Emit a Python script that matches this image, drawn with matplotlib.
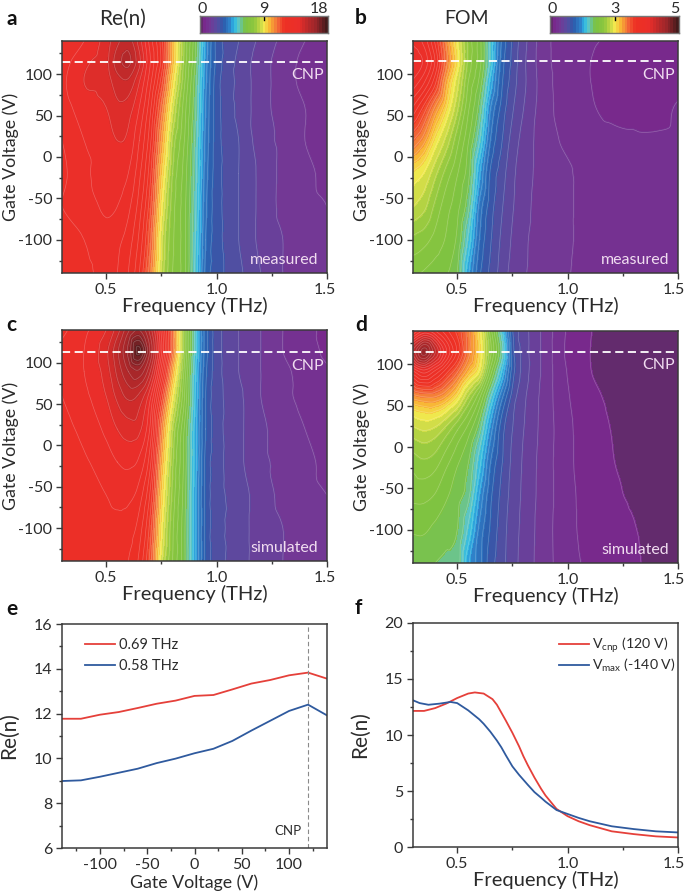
#!/usr/bin/env python3

import numpy as np
import matplotlib
matplotlib.use('Agg')
import matplotlib.pyplot as plt
import matplotlib.tri as mtri
from matplotlib.colors import LinearSegmentedColormap, Normalize, TwoSlopeNorm
from matplotlib.ticker import MultipleLocator
from matplotlib.transforms import ScaledTranslation

plt.rcParams['font.family'] = ['Lato', 'DejaVu Sans']
plt.rcParams['mathtext.fontset'] = 'custom'
plt.rcParams['mathtext.rm'] = 'Lato'
plt.rcParams['axes.unicode_minus'] = False

# node positions the maps were read at
volts = [-140, -100, -60, -20, 20, 60, 90, 115, 140]
freq_n = [0.3, 0.4, 0.5, 0.55, 0.6, 0.65, 0.7, 0.75, 0.8, 0.85, 0.9, 0.95, 1.0, 1.1, 1.2, 1.3, 1.4, 1.5]
freq_fom = [0.3, 0.35, 0.4, 0.45, 0.5, 0.55, 0.6, 0.65, 0.7, 0.75, 0.8, 0.9, 1.0, 1.1, 1.2, 1.3, 1.4, 1.5]

n_measured = [
    [13.0, 13.1, 13.3, 13.2, 12.8, 12.0, 10.5, 8.3, 7.2, 6.6, 5.2, 3.5, 3.0, 2.5, 2.0, 1.6, 1.3, 1.2],
    [13.1, 13.2, 13.4, 13.3, 13.0, 12.3, 10.9, 8.5, 7.3, 6.6, 5.3, 3.6, 3.0, 2.4, 1.9, 1.6, 1.3, 1.2],
    [13.2, 13.3, 13.7, 13.6, 13.3, 12.6, 11.3, 8.9, 7.4, 6.6, 5.4, 3.7, 3.0, 2.4, 1.9, 1.5, 1.3, 1.2],
    [13.1, 13.5, 13.8, 13.8, 13.6, 12.9, 11.7, 9.4, 7.6, 6.7, 5.5, 3.8, 3.0, 2.4, 1.9, 1.5, 1.3, 1.1],
    [13.2, 13.6, 13.8, 14.0, 13.9, 13.2, 12.1, 10.0, 7.9, 6.9, 5.6, 3.9, 3.0, 2.4, 1.8, 1.5, 1.2, 1.1],
    [13.4, 13.8, 14.0, 14.3, 14.2, 13.6, 12.5, 10.7, 8.5, 7.1, 5.8, 4.0, 3.0, 2.3, 1.8, 1.4, 1.2, 1.0],
    [13.5, 14.0, 14.2, 14.6, 14.7, 14.0, 12.9, 11.4, 9.1, 7.4, 5.9, 4.1, 3.0, 2.3, 1.8, 1.4, 1.1, 1.0],
    [13.4, 13.9, 14.3, 15.0, 15.3, 14.5, 13.2, 11.9, 9.6, 7.6, 6.1, 4.2, 3.1, 2.3, 1.8, 1.4, 1.1, 0.9],
    [13.2, 13.6, 14.2, 14.7, 15.0, 14.2, 13.0, 11.8, 9.7, 7.7, 6.2, 4.3, 3.1, 2.4, 1.9, 1.5, 1.2, 1.0],
]
n_simulated = [
    [13.0, 13.0, 13.0, 13.0, 12.8, 12.3, 11.0, 8.5, 7.2, 6.2, 4.6, 3.1, 2.6, 2.2, 1.8, 1.6, 1.4, 1.3],
    [13.0, 13.05, 13.1, 13.1, 13.0, 12.6, 11.4, 8.9, 7.3, 6.2, 4.6, 3.1, 2.6, 2.2, 1.8, 1.6, 1.4, 1.3],
    [13.0, 13.1, 13.2, 13.3, 13.3, 13.0, 11.9, 9.3, 7.5, 6.3, 4.6, 3.1, 2.6, 2.2, 1.8, 1.5, 1.3, 1.2],
    [13.05, 13.15, 13.4, 13.6, 13.7, 13.5, 12.5, 9.8, 7.7, 6.4, 4.7, 3.1, 2.6, 2.1, 1.7, 1.5, 1.3, 1.1],
    [13.1, 13.3, 13.7, 14.0, 14.2, 14.1, 13.1, 10.4, 8.0, 6.5, 4.7, 3.2, 2.6, 2.1, 1.7, 1.4, 1.2, 1.0],
    [13.2, 13.5, 14.0, 14.5, 14.9, 14.7, 13.7, 11.5, 8.9, 7.0, 4.9, 3.2, 2.6, 2.1, 1.6, 1.3, 1.1, 0.95],
    [13.3, 13.6, 14.2, 14.9, 15.6, 15.9, 14.8, 12.6, 9.8, 7.3, 5.0, 3.3, 2.6, 2.0, 1.6, 1.3, 1.05, 0.85],
    [13.3, 13.6, 14.3, 15.1, 16.1, 17.3, 15.5, 13.3, 10.6, 7.6, 5.2, 3.4, 2.6, 2.0, 1.6, 1.2, 1.0, 0.7],
    [13.1, 13.5, 14.0, 14.6, 15.5, 16.0, 15.0, 13.1, 10.6, 7.6, 5.2, 3.4, 2.6, 2.0, 1.6, 1.2, 1.0, 0.6],
]
fom_measured = [
    [2.3, 2.25, 2.2, 2.15, 2.0, 1.5, 1.1, 0.9, 0.75, 0.62, 0.55, 0.46, 0.41, 0.33, 0.3, 0.29, 0.28, 0.28],
    [2.5, 2.45, 2.35, 2.25, 2.1, 1.7, 1.2, 0.95, 0.78, 0.65, 0.56, 0.47, 0.42, 0.34, 0.3, 0.29, 0.28, 0.28],
    [2.8, 2.7, 2.5, 2.32, 2.18, 1.9, 1.3, 1.0, 0.82, 0.68, 0.58, 0.47, 0.42, 0.34, 0.3, 0.29, 0.28, 0.29],
    [3.02, 2.92, 2.7, 2.48, 2.28, 2.05, 1.5, 1.05, 0.87, 0.7, 0.6, 0.47, 0.42, 0.33, 0.3, 0.29, 0.29, 0.3],
    [3.4, 3.25, 3.0, 2.75, 2.45, 2.15, 1.75, 1.2, 0.95, 0.75, 0.62, 0.46, 0.37, 0.31, 0.29, 0.28, 0.28, 0.29],
    [3.75, 3.55, 3.3, 3.05, 2.7, 2.3, 1.95, 1.35, 1.03, 0.82, 0.67, 0.45, 0.34, 0.28, 0.24, 0.23, 0.22, 0.28],
    [4.0, 3.85, 3.6, 3.2, 2.85, 2.4, 2.1, 1.55, 1.1, 0.87, 0.7, 0.45, 0.33, 0.27, 0.2, 0.19, 0.18, 0.22],
    [4.1, 4.0, 3.75, 3.35, 3.0, 2.5, 2.2, 1.7, 1.15, 0.9, 0.7, 0.44, 0.33, 0.27, 0.2, 0.18, 0.18, 0.2],
    [4.0, 3.9, 3.65, 3.3, 2.95, 2.5, 2.2, 1.7, 1.2, 0.92, 0.72, 0.44, 0.33, 0.29, 0.24, 0.2, 0.19, 0.2],
]
fom_simulated = [
    [2.05, 2.05, 2.0, 1.97, 1.95, 1.5, 1.25, 1.0, 0.85, 0.72, 0.62, 0.45, 0.32, 0.24, 0.2, 0.15, 0.1, 0.06],
    [2.15, 2.15, 2.1, 2.05, 2.0, 1.7, 1.3, 1.05, 0.87, 0.73, 0.63, 0.45, 0.31, 0.22, 0.17, 0.14, 0.08, 0.05],
    [2.3, 2.3, 2.25, 2.15, 2.05, 1.9, 1.45, 1.1, 0.9, 0.75, 0.64, 0.46, 0.31, 0.21, 0.15, 0.12, 0.07, 0.04],
    [2.45, 2.5, 2.45, 2.3, 2.15, 2.0, 1.65, 1.2, 0.95, 0.77, 0.65, 0.46, 0.3, 0.2, 0.14, 0.1, 0.06, 0.03],
    [2.75, 2.8, 2.75, 2.6, 2.4, 2.2, 1.9, 1.4, 1.0, 0.8, 0.67, 0.47, 0.3, 0.19, 0.13, 0.08, 0.04, 0.02],
    [3.25, 3.3, 3.3, 3.2, 3.0, 2.65, 2.3, 1.75, 1.25, 0.88, 0.7, 0.47, 0.28, 0.17, 0.11, 0.05, 0.02, 0.01],
    [3.8, 3.95, 3.8, 3.6, 3.4, 3.15, 2.9, 2.2, 1.6, 1.0, 0.75, 0.48, 0.26, 0.14, 0.09, 0.03, 0.01, 0.01],
    [4.3, 4.6, 4.3, 3.95, 3.65, 3.35, 3.05, 2.45, 1.85, 1.0, 0.75, 0.48, 0.24, 0.135, 0.08, 0.02, 0.01, 0.01],
    [3.75, 3.95, 3.85, 3.7, 3.55, 3.35, 3.0, 2.35, 1.7, 0.95, 0.74, 0.48, 0.25, 0.14, 0.08, 0.02, 0.01, 0.01],
]

# panel e
gate_v = [-140, -120, -100, -80, -60, -40, -20, 0, 20, 40, 60, 80, 100, 120, 140]
n_069 = [11.77, 11.77, 11.95, 12.07, 12.25, 12.44, 12.58, 12.79, 12.83, 13.08, 13.34, 13.5, 13.71, 13.83, 13.56]
n_058 = [8.99, 9.02, 9.18, 9.36, 9.54, 9.79, 9.99, 10.23, 10.43, 10.78, 11.24, 11.68, 12.12, 12.4, 11.92]

# panel f
f_cnp = [0.3, 0.35, 0.4, 0.45, 0.5, 0.55, 0.58, 0.62, 0.66, 0.68, 0.7, 0.72, 0.75, 0.78, 0.8, 0.82, 0.85, 0.88, 0.9, 0.95, 1.0, 1.05, 1.1, 1.2, 1.3, 1.4, 1.5]
n_cnp = [12.15, 12.15, 12.4, 12.8, 13.3, 13.7, 13.8, 13.7, 13.2, 12.7, 12.0, 11.3, 10.2, 9.0, 8.1, 7.3, 6.2, 5.2, 4.6, 3.4, 2.75, 2.3, 1.95, 1.4, 1.15, 0.95, 0.85]
f_max = [0.3, 0.33, 0.37, 0.42, 0.47, 0.5, 0.55, 0.6, 0.62, 0.65, 0.68, 0.7, 0.72, 0.75, 0.78, 0.8, 0.82, 0.85, 0.88, 0.9, 0.95, 1.0, 1.05, 1.1, 1.2, 1.3, 1.4, 1.5]
n_max = [13.1, 12.85, 12.7, 12.8, 12.95, 12.85, 12.2, 11.4, 11.0, 10.3, 9.5, 8.9, 8.2, 7.2, 6.45, 6.0, 5.55, 4.9, 4.4, 4.05, 3.3, 2.95, 2.6, 2.3, 1.85, 1.6, 1.4, 1.3]

W, H = 685, 896
TEXT = '#2b2b2b'
SPINE = '#3a3a3a'
RED = '#e5403a'
BLUE = '#2f5a9e'

cmap = LinearSegmentedColormap.from_list('rainbowish', [
    (0.0, '#5c2c62'), (0.03, '#78298c'), (0.08, '#723a96'), (0.13, '#5a4ba0'),
    (0.18, '#2c5bab'), (0.23, '#2f7fc8'), (0.27, '#2bb9e8'), (0.30, '#5fc6c0'),
    (0.35, '#7cc242'), (0.42, '#8cc63f'), (0.47, '#c5d845'), (0.5, '#f2e94e'),
    (0.55, '#f9b233'), (0.6, '#f26f3a'), (0.66, '#ee3124'), (0.77, '#ea2e2a'),
    (0.83, '#c42a2a'), (0.91, '#96252a'), (1.0, '#3c1a1a'),
])

norm_n = Normalize(0, 18)
norm_fom = TwoSlopeNorm(vcenter=3, vmin=0, vmax=5)
levels_n = np.linspace(0, 18, 46)
levels_fom = norm_fom.inverse(np.linspace(0, 1, 46))

fig = plt.figure(figsize=(W / 100, H / 100), dpi=100)


def px_axes(x0, y0, x1, y1):
    return fig.add_axes([x0 / W, 1 - y1 / H, (x1 - x0) / W, (y1 - y0) / H])


def style(ax):
    for s in ax.spines.values():
        s.set_color(SPINE)
        s.set_linewidth(1.1)
    ax.tick_params(which='major', length=4.5, width=1, color=SPINE, labelsize=11.5, labelcolor=TEXT, pad=2.5)
    ax.tick_params(which='minor', length=2.5, width=1, color=SPINE)
    ax.yaxis.set_label_coords(-0.163, 0.5)


def nudge_last_label(ax, px):
    # the 1.5 label sits a little left of its tick, and stays inside the figure
    lab = ax.get_xticklabels()[-1]
    lab.set_transform(lab.get_transform() + ScaledTranslation(-px / 100, 0, fig.dpi_scale_trans))


def contour_map(box, freq, z, levels, norm, y_cnp, tag):
    ax = px_axes(*box)
    X, Y = np.meshgrid(freq, volts)
    tri = mtri.Triangulation(X.ravel(), Y.ravel())
    z = np.array(z).ravel()
    interp = mtri.CubicTriInterpolator(tri, z, kind='geom')
    tri2, z2 = mtri.UniformTriRefiner(tri).refine_field(z, triinterpolator=interp, subdiv=3)
    cs = ax.tricontourf(tri2, z2, levels=levels, cmap=cmap, norm=norm, extend='both')
    cs.set_edgecolor('face')
    ax.tricontour(tri2, z2, levels=levels, colors='white', linewidths=0.5, alpha=0.25)
    ax.axhline(y_cnp, color='white', lw=1.3, dashes=(4.5, 2.5))
    ax.text(1.485, y_cnp - 8, 'CNP', color='#f0dcf0', fontsize=11.5, ha='right', va='top')
    ax.text(1.46, -124, tag, color='#f0dcf0', fontsize=11.5, ha='right', va='center')
    ax.set_xlim(0.3, 1.5)
    ax.set_ylim(-140, 140)
    ax.xaxis.set_minor_locator(MultipleLocator(0.25))
    ax.yaxis.set_major_locator(MultipleLocator(50))
    ax.yaxis.set_minor_locator(MultipleLocator(25))
    ax.set_xticks([0.5, 1.0, 1.5])
    ax.set_xticklabels(['0.5', '1.0', '1.5'])
    ax.set_xlabel('Frequency (THz)', fontsize=14.5, color=TEXT, labelpad=0)
    ax.set_ylabel('Gate Voltage (V)', fontsize=12.8, color=TEXT)
    style(ax)
    nudge_last_label(ax, 4 if box[0] > 300 else 2)
    return ax


def colorbar(box, norm, levels, labels):
    ax = px_axes(*box)
    bands = norm(levels)
    mids = (bands[:-1] + bands[1:]) / 2
    ax.pcolormesh(bands, [0, 1], [mids], cmap=cmap, vmin=0, vmax=1)
    ax.set_xlim(0, 1)
    ax.set_ylim(0, 1)
    ax.set_xticks([])
    ax.set_yticks([])
    for s in ax.spines.values():
        s.set_color('#777777')
        s.set_linewidth(1)
    ax.plot([0.5, 0.5], [0.78, 1], color='black', lw=1)
    for x, lab, ha in zip([0.02, 0.5, 1.0], labels, ['center', 'center', 'right']):
        ax.text(x, 1.02, lab, ha=ha, va='bottom', fontsize=11.5, color=TEXT)


contour_map((62, 41, 327, 273), freq_n, n_measured, levels_n, norm_n, 115, 'measured')
contour_map((413, 41, 678, 273), freq_fom, fom_measured, levels_fom, norm_fom, 116, 'measured')
contour_map((62, 330, 327, 561), freq_n, n_simulated, levels_n, norm_n, 113, 'simulated')
contour_map((413, 331, 678, 563), freq_fom, fom_simulated, levels_fom, norm_fom, 115, 'simulated')

colorbar((200, 16, 328, 33), norm_n, levels_n, ['0', '9', '18'])
colorbar((550, 16, 679, 33), norm_fom, levels_fom, ['0', '3', '5'])

# panel e
ax = px_axes(62, 624, 327, 848)
ax.plot(gate_v, n_069, color=RED, lw=1.3, label='0.69 THz')
ax.plot(gate_v, n_058, color=BLUE, lw=1.3, label='0.58 THz')
ax.axvline(120, color='#8a8a8a', lw=0.8, dashes=(4, 2.5))
ax.text(99, 6.75, 'CNP', fontsize=9.5, color=TEXT, ha='center', va='center')
ax.set_xlim(-140, 140)
ax.set_ylim(6, 16)
ax.xaxis.set_major_locator(MultipleLocator(50))
ax.xaxis.set_minor_locator(MultipleLocator(25))
ax.yaxis.set_major_locator(MultipleLocator(2))
ax.yaxis.set_minor_locator(MultipleLocator(1))
ax.set_xlabel('Gate Voltage (V)', fontsize=12.8, color=TEXT, labelpad=2)
ax.set_ylabel('Re(n)', fontsize=15, color=TEXT)
ax.legend(loc='upper left', bbox_to_anchor=(0.065, 0.965), frameon=False, fontsize=10.5, handlelength=2.05,
          handletextpad=0.25, labelspacing=0.5, borderaxespad=0, labelcolor=TEXT)
style(ax)

# panel f
ax = px_axes(413, 623, 678, 847)
ax.plot(f_cnp, n_cnp, color=RED, lw=1.3, label=r'V$_{\mathrm{cnp}}$ (120 V)')
ax.plot(f_max, n_max, color=BLUE, lw=1.3, label=r'V$_{\mathrm{max}}$ (-140 V)')
ax.set_xlim(0.3, 1.5)
ax.set_ylim(0, 20)
ax.set_xticks([0.5, 1.0, 1.5])
ax.set_xticklabels(['0.5', '1.0', '1.5'])
ax.xaxis.set_minor_locator(MultipleLocator(0.25))
ax.yaxis.set_major_locator(MultipleLocator(5))
ax.yaxis.set_minor_locator(MultipleLocator(2.5))
ax.set_xlabel('Frequency (THz)', fontsize=14.5, color=TEXT, labelpad=0)
ax.set_ylabel('Re(n)', fontsize=15, color=TEXT)
ax.legend(loc='upper left', bbox_to_anchor=(0.53, 0.97), frameon=False, fontsize=10.2, handlelength=2.1,
          handletextpad=0.25, labelspacing=0.1, borderaxespad=0, labelcolor=TEXT)
style(ax)
nudge_last_label(ax, 4)

# panel letters and titles
for lab, x, y in [('a', 6, 19), ('b', 355, 18), ('c', 6, 325), ('d', 355, 325), ('e', 6, 609), ('f', 355, 608)]:
    fig.text(x / W, 1 - y / H, lab, fontsize=15, fontweight='bold', color='#111111', va='center')
fig.text(123 / W, 1 - 19 / H, 'Re(n)', fontsize=15, color=TEXT, ha='center', va='center')
fig.text(467 / W, 1 - 19 / H, 'FOM', fontsize=14, color=TEXT, ha='center', va='center')

fig.savefig('out.png', dpi=100)
